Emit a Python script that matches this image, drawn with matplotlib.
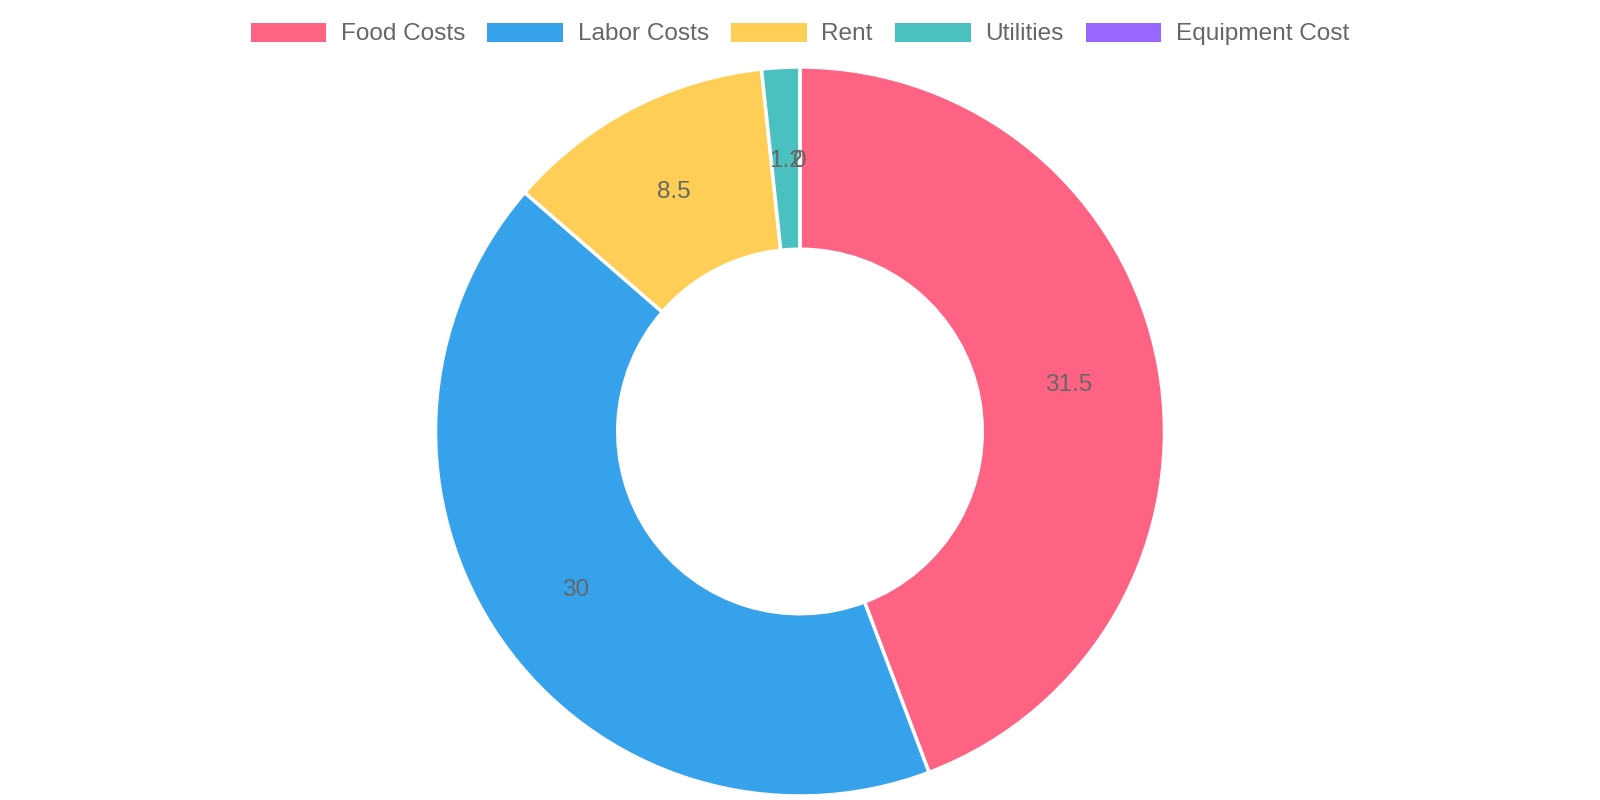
import numpy as np
import matplotlib
matplotlib.use("Agg")
import matplotlib.pyplot as plt
from matplotlib.patches import Rectangle

categories = ["Food Costs", "Labor Costs", "Rent", "Utilities", "Equipment Cost"]
values = [31.5, 30, 8.5, 1.2, 0]
value_labels = ["31.5", "30", "8.5", "1.2", "0"]
colors = ["#FF6384", "#36A2EB", "#FFCE56", "#4BC0C0", "#9966FF"]

plt.rcParams['font.family'] = ['Liberation Sans', 'DejaVu Sans']

fig = plt.figure(figsize=(16, 8), dpi=100)
ax = fig.add_axes([0, 0, 1, 1])
ax.set_xlim(0, 1600)
ax.set_ylim(0, 800)
ax.set_aspect('equal')
ax.axis('off')

R = 364.5
cx, cy = 800, 800 - 431.5
width = R * 0.5
wedges, _ = ax.pie(values, startangle=90, counterclock=False, radius=R,
                   center=(cx, cy), colors=colors,
                   wedgeprops=dict(width=width, edgecolor='white', linewidth=2.5))
ax.set_xlim(0, 1600)
ax.set_ylim(0, 800)

rm = R - width / 2
for w, lab in zip(wedges, value_labels):
    a = np.deg2rad((w.theta1 + w.theta2) / 2)
    ax.text(cx + rm * np.cos(a), cy + rm * np.sin(a), lab, ha='center',
            va='center_baseline', fontsize=17.5, color='#666666')

handles = [Rectangle((0, 0), 1, 1, facecolor=c, edgecolor='none') for c in colors]
fig.legend(handles, categories, loc='center', bbox_to_anchor=(0.5, 1 - 34.0 / 800),
           ncol=5, frameon=False, fontsize=17.6, labelcolor='#666666',
           handlelength=3.1, handleheight=0.82, handletextpad=0.6, columnspacing=0.9)

fig.savefig("out.png", dpi=100)
